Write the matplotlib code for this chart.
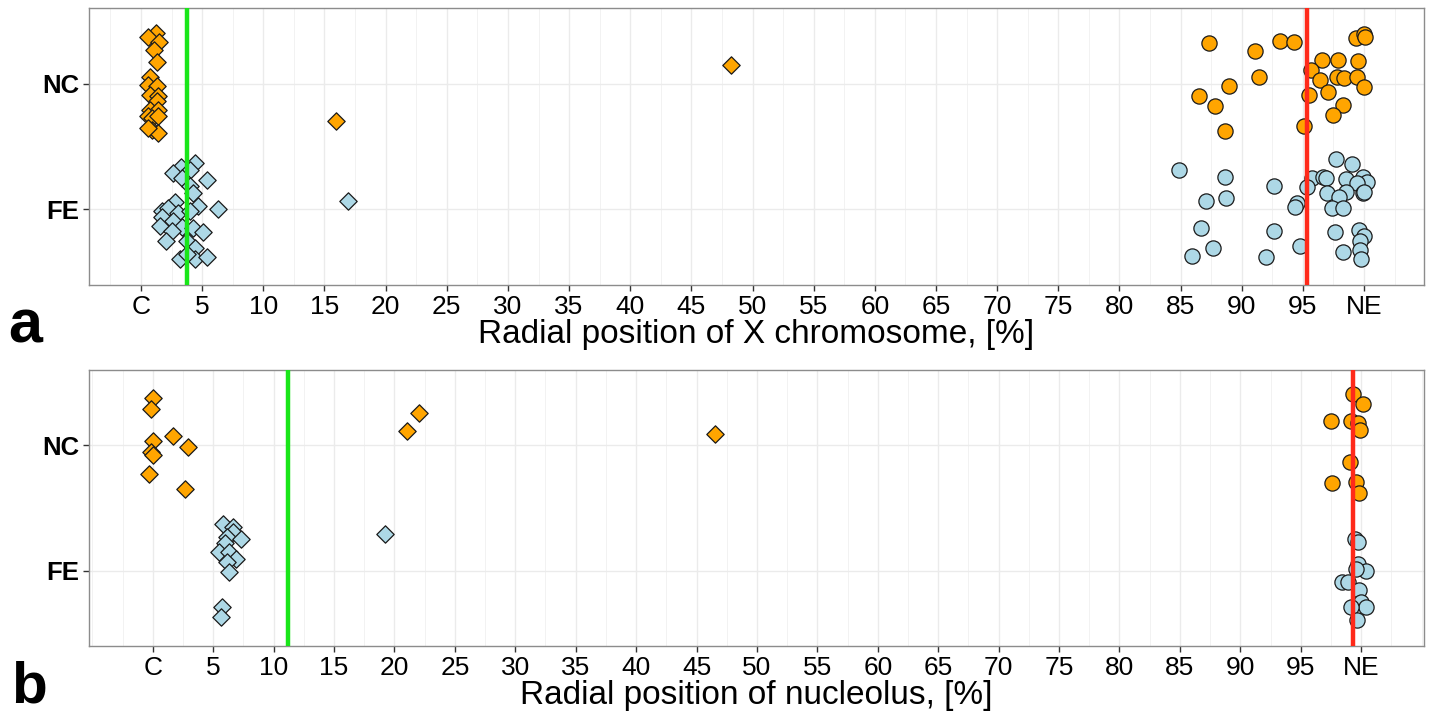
import numpy as np
import matplotlib
matplotlib.use("Agg")
import matplotlib.pyplot as plt
from matplotlib.ticker import MultipleLocator

plt.rcParams['font.family'] = ['Liberation Sans', 'DejaVu Sans']

# category positions on the y axis
groups = ['FE', 'NC']

# x tick labels
tick_vals = list(range(0, 101, 5))
tick_labels = ['C'] + [str(v) for v in range(5, 100, 5)] + ['NE']

# ---- panel a: X chromosome ----
a_nc_dia_x = [1.23, 0.60, 1.50, 1.09, 1.28, 0.74, 0.60, 1.28, 0.74, 1.41, 1.28, 0.74, 1.41,
              0.60, 0.87, 1.41, 0.87, 1.41, 0.60, 15.94, 48.24]
a_nc_dia_j = [0.40, 0.37, 0.33, 0.27, 0.17, 0.05, -0.01, -0.02, -0.09, -0.10, -0.14, -0.21, -0.21,
              -0.26, -0.27, -0.26, -0.37, -0.39, -0.35, -0.30, 0.15]
a_fe_dia_x = [4.42, 3.24, 2.64, 4.01, 3.33, 5.37, 4.01, 4.28, 2.78, 4.69, 1.69, 2.23, 3.05, 6.32,
              4.01, 1.69, 2.64, 1.55, 3.33, 4.28, 5.10, 2.51, 2.04, 3.73, 4.42, 3.19, 4.42, 5.37,
              3.73, 16.93]
a_fe_dia_j = [0.37, 0.34, 0.29, 0.31, 0.25, 0.23, 0.19, 0.13, 0.06, 0.03, -0.01, 0.01, -0.03, 0.00,
              -0.01, -0.06, -0.09, -0.13, -0.14, -0.15, -0.18, -0.17, -0.25, -0.25, -0.31, -0.39,
              -0.39, -0.38, -0.35, 0.07]
a_nc_cir_x = [87.35, 91.09, 93.13, 94.28, 99.32, 100.03, 100.08, 96.59, 97.85, 99.53, 95.69, 91.41,
              96.40, 97.77, 98.39, 99.40, 100.0, 88.99, 86.51, 87.82, 95.53, 97.08, 98.31, 97.44,
              88.61, 95.07]
a_nc_cir_j = [0.32, 0.26, 0.34, 0.33, 0.36, 0.39, 0.37, 0.19, 0.19, 0.18, 0.11, 0.05, 0.03, 0.05,
              0.04, 0.05, -0.03, -0.02, -0.10, -0.18, -0.09, -0.07, -0.17, -0.25, -0.38, -0.34]
a_fe_cir_x = [84.87, 97.69, 99.02, 95.77, 96.62, 96.87, 98.53, 99.95, 100.22, 99.40, 88.66, 92.62,
              95.36, 96.95, 98.53, 97.93, 99.89, 100.0, 87.05, 88.72, 94.50, 94.36, 97.36, 98.31,
              86.65, 92.62, 97.63, 99.59, 99.98, 99.67, 87.68, 94.77, 99.67, 85.91, 91.99, 98.31,
              99.73]
a_fe_cir_j = [0.31, 0.40, 0.36, 0.25, 0.26, 0.25, 0.24, 0.26, 0.22, 0.21, 0.26, 0.19, 0.18, 0.13,
              0.14, 0.10, 0.13, 0.14, 0.07, 0.09, 0.05, 0.02, 0.01, 0.01, -0.15, -0.17, -0.18,
              -0.16, -0.21, -0.25, -0.31, -0.29, -0.32, -0.37, -0.38, -0.34, -0.39]
a_green = 3.76
a_red = 95.3

# ---- panel b: nucleolus ----
b_nc_dia_x = [0.0, -0.14, 0.05, -0.14, 0.05, -0.31, 1.71, 2.90, 2.67, 21.08, 22.07, 46.55]
b_nc_dia_j = [0.38, 0.29, 0.03, -0.05, -0.08, -0.23, 0.07, -0.01, -0.35, 0.11, 0.26, 0.09]
b_fe_dia_x = [5.79, 6.62, 6.67, 6.18, 7.31, 5.98, 5.51, 6.34, 6.90, 6.18, 6.34, 5.76, 5.63, 19.21]
b_fe_dia_j = [0.37, 0.35, 0.31, 0.27, 0.25, 0.22, 0.15, 0.15, 0.09, 0.07, -0.01, -0.29, -0.37, 0.29]
b_nc_cir_x = [99.34, 100.17, 97.54, 99.17, 99.72, 99.88, 99.11, 97.60, 99.59, 99.80]
b_nc_cir_j = [0.41, 0.33, 0.19, 0.19, 0.18, 0.12, -0.13, -0.30, -0.29, -0.38]
b_fe_cir_x = [99.45, 99.75, 99.72, 100.36, 99.61, 98.43, 98.92, 99.80, 100.0, 100.36, 99.17, 99.67]
b_fe_cir_j = [0.25, 0.23, 0.05, 0.00, 0.01, -0.09, -0.09, -0.15, -0.25, -0.29, -0.29, -0.39]
b_green = 11.2
b_red = 99.3

ORANGE = '#FFA500'
BLUE = '#ADD8E6'

fig = plt.figure(figsize=(14.29, 7.13), dpi=100)
ax_a = fig.add_axes([0.0623, 0.6003, 0.9342, 0.3885])
ax_b = fig.add_axes([0.0623, 0.0940, 0.9342, 0.3871])


def draw(ax, series, green, red, xlim, xlabel):
    for xs, js, grp, mk, col in series:
        y = groups.index(grp) + 1 + np.array(js)
        s = 78 if mk == 'D' else 120
        ax.scatter(xs, y, marker=mk, s=s, c=col, edgecolors='#1a1a1a',
                   linewidths=0.9, zorder=3)
    ax.axvline(green, color='#19e619', lw=3.2, zorder=4)
    ax.axvline(red, color='#ff2a1a', lw=3.2, zorder=4)
    ax.set_xlim(*xlim)
    ax.set_ylim(0.4, 2.6)
    ax.set_xticks(tick_vals)
    ax.set_xticklabels(tick_labels, fontsize=19, color='black')
    ax.xaxis.set_minor_locator(MultipleLocator(2.5))
    ax.set_yticks([1, 2])
    ax.set_yticklabels(groups, fontsize=18.5, fontweight='bold', color='black')
    ax.tick_params(axis='both', which='major', length=4, width=1, color='#333333', pad=3)
    ax.tick_params(axis='x', which='minor', length=0)
    ax.grid(which='major', color='#ebebeb', lw=1.0, zorder=0)
    ax.grid(which='minor', axis='x', color='#f2f2f2', lw=0.7, zorder=0)
    ax.set_axisbelow(True)
    for sp in ax.spines.values():
        sp.set_color('#8c8c8c')
        sp.set_linewidth(1.0)
    ax.set_xlabel(xlabel, fontsize=24, labelpad=0)


draw(ax_a, [(a_nc_dia_x, a_nc_dia_j, 'NC', 'D', ORANGE),
            (a_fe_dia_x, a_fe_dia_j, 'FE', 'D', BLUE),
            (a_nc_cir_x, a_nc_cir_j, 'NC', 'o', ORANGE),
            (a_fe_cir_x, a_fe_cir_j, 'FE', 'o', BLUE)],
     a_green, a_red, (-4.25, 104.9), 'Radial position of X chromosome, [%]')

draw(ax_b, [(b_nc_dia_x, b_nc_dia_j, 'NC', 'D', ORANGE),
            (b_fe_dia_x, b_fe_dia_j, 'FE', 'D', BLUE),
            (b_nc_cir_x, b_nc_cir_j, 'NC', 'o', ORANGE),
            (b_fe_cir_x, b_fe_cir_j, 'FE', 'o', BLUE)],
     b_green, b_red, (-5.27, 105.2), 'Radial position of nucleolus, [%]')

fig.text(0.006, 0.519, 'a', fontsize=44, fontweight='bold', va='baseline')
fig.text(0.008, 0.0154, 'b', fontsize=42, fontweight='bold', va='baseline')

fig.savefig('out.png', dpi=100)
